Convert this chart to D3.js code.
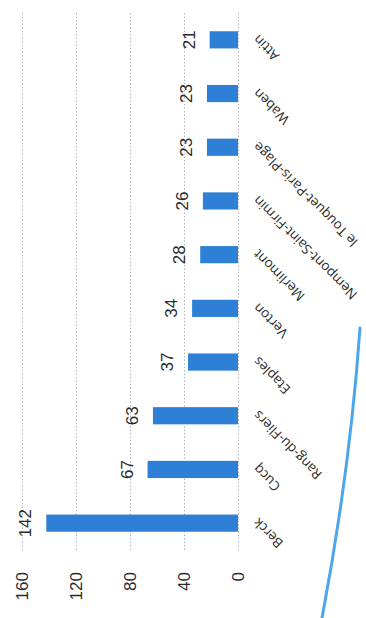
<!DOCTYPE html>
<html>
<head>
<meta charset="utf-8">
<script src="https://cdn.jsdelivr.net/npm/d3@7"></script>
<style>
  html, body { margin: 0; padding: 0; background: #fff; }
  svg { display: block; }
</style>
</head>
<body>
<svg id="chart" width="366" height="618"></svg>
<script>
const categories = ["Berck", "Cucq", "Rang-du-Fliers", "Etaples", "Verton", "Merlimont",
  "Nempont-Saint-Firmin", "le Touquet-Paris-Plage", "Waben", "Attin"];
const values = [142, 67, 63, 37, 34, 28, 26, 23, 23, 21];
const tickValues = [0, 40, 80, 120, 160];

const W = 366, H = 618;
const svg = d3.select("#chart");
svg.append("rect").attr("width", W).attr("height", H).attr("fill", "#fff");

// chart is drawn in its own (upright) frame then turned a quarter turn counter-clockwise
const g = svg.append("g").attr("transform", `translate(0,${H}) rotate(-90)`);

const x = d3.scaleBand().domain(categories).range([68, 605])
  .paddingInner(0.68).paddingOuter(0.34);
const y = d3.scaleLinear().domain([0, 160]).range([238, 22]);

// gridlines + value axis labels
const axis = g.append("g").attr("transform", "translate(68,0)")
  .call(d3.axisLeft(y).tickValues(tickValues).tickSize(-(605 - 68)).tickPadding(22)
    .tickFormat(d3.format("d")));
axis.select(".domain").remove();
axis.selectAll(".tick line").attr("stroke", "#aeb6c2").attr("stroke-width", 1)
  .attr("stroke-dasharray", "1.5,2");
axis.selectAll(".tick text").attr("fill", "#2a2a2a")
  .style("font-family", "'Liberation Sans', Arial, sans-serif").style("font-size", "17px");

// bars
g.selectAll("rect.bar").data(categories).join("rect").attr("class", "bar")
  .attr("x", d => x(d))
  .attr("width", x.bandwidth())
  .attr("y", (d, i) => y(values[i]))
  .attr("height", (d, i) => y(0) - y(values[i]))
  .attr("fill", "#2d80d6");

// value labels
g.selectAll("text.val").data(categories).join("text").attr("class", "val")
  .attr("x", d => x(d) + x.bandwidth() / 2)
  .attr("y", (d, i) => y(values[i]) - 15)
  .attr("text-anchor", "middle")
  .attr("fill", "#2a2a2a")
  .style("font-family", "'Liberation Sans', Arial, sans-serif").style("font-size", "17px")
  .text((d, i) => values[i]);

// category labels
g.selectAll("text.cat").data(categories).join("text").attr("class", "cat")
  .attr("transform", d => `translate(${x(d) + x.bandwidth() / 2 + 6},259) rotate(-45)`)
  .attr("text-anchor", "end")
  .attr("fill", "#2a2a2a")
  .style("font-family", "'Open Sans', 'Liberation Sans', sans-serif").style("font-size", "13.5px")
  .text(d => d);

// blue pen stroke on the paper
svg.append("path")
  .attr("d", "M360,328 Q350,470 322,618")
  .attr("fill", "none").attr("stroke", "#3a9ce8").attr("stroke-width", 3)
  .attr("stroke-linecap", "round").attr("opacity", 0.9);
</script>
</body>
</html>
